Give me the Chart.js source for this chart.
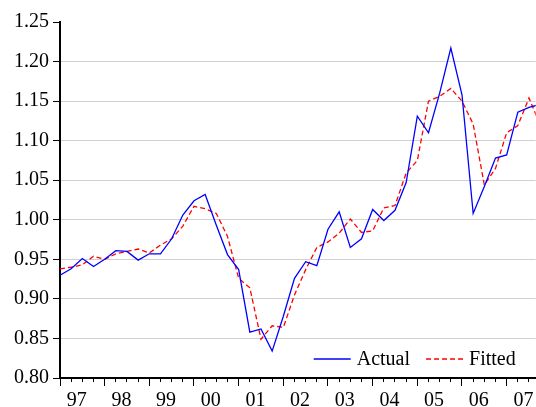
<!DOCTYPE html>
<html>
<head>
<meta charset="utf-8">
<script src="https://cdn.jsdelivr.net/npm/chart.js@4.4.1/dist/chart.umd.min.js"></script>
<style>
  html, body { margin:0; padding:0; background:#fff; }
  #wrap { width:536px; height:407px; overflow:hidden; }
</style>
</head>
<body>
<div id="wrap"><canvas id="grafico" width="536" height="407"></canvas></div>
<script>
// ------------------- DATA -------------------
// one label per year, series are quarterly from 1997Q1
const anos = ['97','98','99','00','01','02','03','04','05','06','07'];
const actual = [
  0.930, 0.938, 0.951, 0.941, 0.950, 0.961, 0.960, 0.949, 0.957, 0.957, 0.976,
  1.006, 1.024, 1.032, 0.993, 0.956, 0.937, 0.858, 0.862, 0.834, 0.878, 0.926,
  0.947, 0.942, 0.988, 1.010, 0.965, 0.976, 1.013, 0.999, 1.012, 1.047, 1.131,
  1.110, 1.160, 1.217, 1.158, 1.008, 1.042, 1.078, 1.082, 1.136, 1.142, 1.146
];
const fitted = [
  0.938, 0.940, 0.943, 0.954, 0.950, 0.957, 0.960, 0.963, 0.958, 0.968, 0.976,
  0.992, 1.017, 1.014, 1.008, 0.979, 0.926, 0.914, 0.849, 0.866, 0.864, 0.905,
  0.937, 0.965, 0.972, 0.983, 1.001, 0.984, 0.986, 1.015, 1.018, 1.059, 1.075,
  1.150, 1.156, 1.166, 1.150, 1.121, 1.044, 1.065, 1.110, 1.119, 1.154, 1.120
];
const yTicks = [0.80, 0.85, 0.90, 0.95, 1.00, 1.05, 1.10, 1.15, 1.20, 1.25];
const nomes = ['Actual', 'Fitted'];

const X_MAX = 42.6;   // visible part of the quarter axis
const fonte = "'Liberation Serif', 'Times New Roman', serif";

Chart.defaults.font.family = fonte;
Chart.defaults.font.size = 20;
Chart.defaults.color = '#000';

const pontos = serie => serie.map((v, i) => ({ x: i, y: v }));

// legend drawn inside the plot, bottom right
const legendaPlugin = {
  id: 'legenda',
  afterDraw(chart) {
    const { ctx, chartArea } = chart;
    const amostra = 37, espaco = 6, entre = 16;
    ctx.save();
    ctx.font = '20px ' + fonte;
    const itens = chart.data.datasets.map(ds => ({ ds, w: ctx.measureText(ds.label).width }));
    const total = itens.reduce((a, it) => a + amostra + espaco + it.w, 0) + entre * (itens.length - 1);
    let x = chartArea.right - 20 - total;
    const y = chartArea.bottom - 19;
    itens.forEach(it => {
      ctx.strokeStyle = it.ds.borderColor;
      ctx.lineWidth = it.ds.borderWidth;
      ctx.setLineDash(it.ds.borderDash || []);
      ctx.beginPath();
      ctx.moveTo(x, y);
      ctx.lineTo(x + amostra, y);
      ctx.stroke();
      ctx.setLineDash([]);
      ctx.fillStyle = '#000';
      ctx.textBaseline = 'middle';
      ctx.fillText(it.ds.label, x + amostra + espaco, y + 1);
      x += amostra + espaco + it.w + entre;
    });
    ctx.restore();
  }
};

new Chart(document.getElementById('grafico'), {
  type: 'line',
  data: {
    datasets: [
      {
        label: nomes[0],
        data: pontos(actual),
        borderColor: '#0000ff',
        borderWidth: 1.3,
        pointRadius: 0,
        tension: 0
      },
      {
        label: nomes[1],
        data: pontos(fitted),
        borderColor: '#ff0000',
        borderWidth: 1.3,
        borderDash: [5, 3],
        pointRadius: 0,
        tension: 0
      }
    ]
  },
  options: {
    responsive: false,
    animation: false,
    devicePixelRatio: 1,
    layout: { padding: { top: 22, right: 0, left: 0, bottom: 0 } },
    plugins: {
      legend: { display: false },
      tooltip: { enabled: false }
    },
    scales: {
      x: {
        type: 'linear',
        min: 0,
        max: X_MAX,
        weight: 1,
        afterBuildTicks: s => {
          const t = [];
          for (let i = 0; i <= s.max; i++) t.push(i);
          anos.forEach((a, k) => { if (4 * k + 1.5 <= s.max) t.push(4 * k + 1.5); });
          s.ticks = t.sort((a, b) => a - b).map(v => ({ value: v }));
        },
        ticks: {
          autoSkip: false,
          maxRotation: 0,
          padding: 7,
          callback: v => ((v - 1.5) % 4 === 0 ? anos[(v - 1.5) / 4] : '')
        },
        grid: {
          drawOnChartArea: false,
          tickLength: 4,
          tickWidth: 1,
          tickColor: c => (Number.isInteger(c.tick.value) ? '#000' : 'rgba(0,0,0,0)')
        },
        border: { color: '#000', width: 2 },
        afterFit: s => { s.height = 29; }
      },
      xAno: {
        type: 'linear',
        position: 'bottom',
        min: 0,
        max: X_MAX,
        weight: 0,
        afterBuildTicks: s => {
          s.ticks = anos.map((a, k) => ({ value: 4 * k })).filter(t => t.value <= s.max);
        },
        ticks: { display: false },
        grid: { drawOnChartArea: false, tickLength: 8, tickWidth: 1, tickColor: '#000' },
        border: { display: false },
        afterFit: s => { s.height = 0; }
      },
      y: {
        min: yTicks[0],
        max: yTicks[yTicks.length - 1],
        afterBuildTicks: s => { s.ticks = yTicks.map(v => ({ value: v })); },
        ticks: { padding: 4, callback: v => v.toFixed(2) },
        grid: {
          color: c => (c.tick && c.tick.value === yTicks[yTicks.length - 1] ? 'rgba(0,0,0,0)' : '#d0d0d0'),
          lineWidth: 1,
          tickColor: '#000',
          tickLength: 7
        },
        border: { color: '#000', width: 2 },
        afterFit: s => { s.width = 60; }
      }
    }
  },
  plugins: [legendaPlugin]
});
</script>
</body>
</html>
